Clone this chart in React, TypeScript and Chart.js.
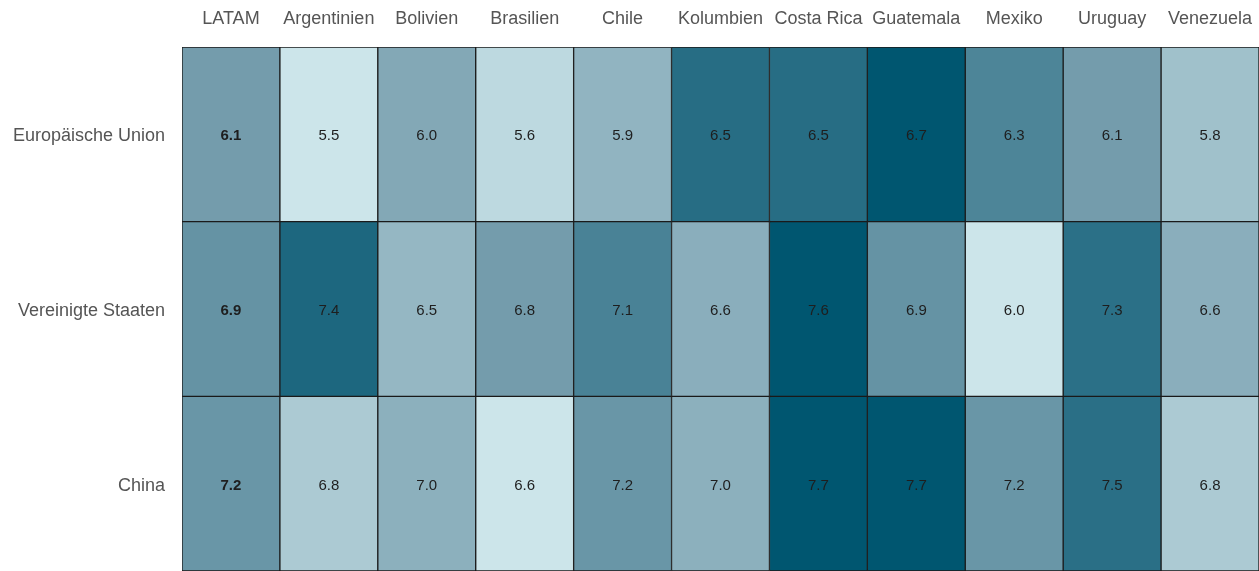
import React, { useEffect, useRef } from "react";
import { Chart, registerables } from "chart.js";

Chart.register(...registerables);

const countries = ["LATAM", "Argentinien", "Bolivien", "Brasilien", "Chile", "Kolumbien", "Costa Rica", "Guatemala", "Mexiko", "Uruguay", "Venezuela"];
const partners = ["Europäische Union", "Vereinigte Staaten", "China"];
const euValues = [6.1, 5.5, 6.0, 5.6, 5.9, 6.5, 6.5, 6.7, 6.3, 6.1, 5.8];
const usValues = [6.9, 7.4, 6.5, 6.8, 7.1, 6.6, 7.6, 6.9, 6.0, 7.3, 6.6];
const chinaValues = [7.2, 6.8, 7.0, 6.6, 7.2, 7.0, 7.7, 7.7, 7.2, 7.5, 6.8];
const rowValues = [euValues, usValues, chinaValues];

const LIGHT = [204, 229, 234];
const MID = [116, 156, 172];
const DARK = [0, 86, 112];

function mix(a: number[], b: number[], t: number) {
  return a.map((x, i) => Math.round(x + (b[i] - x) * t));
}

function colorFor(v: number, row: number[]) {
  const mn = Math.min(...row);
  const mx = Math.max(...row);
  const t = mx === mn ? 0 : (v - mn) / (mx - mn);
  const c = t < 0.5 ? mix(LIGHT, MID, t * 2) : mix(MID, DARK, (t - 0.5) * 2);
  return `rgb(${c[0]},${c[1]},${c[2]})`;
}

const FONT = "'Liberation Sans', Arial, sans-serif";

const labelPlugin = {
  id: "cellLabels",
  afterDatasetsDraw(chart: any) {
    const ctx = chart.ctx;
    ctx.save();
    ctx.textAlign = "center";
    ctx.textBaseline = "middle";
    chart.data.datasets.forEach((ds: any, di: number) => {
      const meta = chart.getDatasetMeta(di);
      meta.data.forEach((el: any, i: number) => {
        const c = el.getCenterPoint();
        const v = rowValues[di][i];
        ctx.font = `${i === 0 ? "bold " : ""}15px ${FONT}`;
        ctx.fillStyle = "#1e1e1e";
        ctx.fillText(v.toFixed(1), c.x, c.y + 2);
      });
    });
    ctx.restore();
  },
};

export default function App() {
  const ref = useRef<HTMLCanvasElement | null>(null);
  useEffect(() => {
    document.body.style.margin = "0";
    const datasets = rowValues.map((row, r) => ({
      label: partners[r],
      data: row.map((v, i) => ({ x: countries[i], y: [r, r + 1] })),
      backgroundColor: row.map((v) => colorFor(v, row)),
      borderColor: "#1a1a1a",
      borderWidth: 1,
      borderSkipped: false,
      barPercentage: 1,
      categoryPercentage: 1,
      grouped: false,
    }));
    const chart = new Chart(ref.current as HTMLCanvasElement, {
      type: "bar",
      data: { labels: countries, datasets: datasets as any },
      options: {
        animation: false,
        responsive: false,
        layout: { padding: 0 },
        plugins: { legend: { display: false }, tooltip: { enabled: false } },
        scales: {
          x: {
            position: "top",
            grid: { display: false, drawTicks: false },
            border: { display: false },
            ticks: { padding: 17, color: "#555", font: { family: FONT, size: 18 }, maxRotation: 0, autoSkip: false },
            afterFit: (s: any) => {
              s.height = 47;
              s.paddingLeft = 0;
              s.paddingRight = 0;
              s.paddingTop = 0;
              s.paddingBottom = 0;
            },
          },
          y: {
            type: "linear",
            min: 0,
            max: 3,
            reverse: true,
            grid: { display: false, drawTicks: false },
            border: { display: false },
            afterBuildTicks: (s: any) => { s.ticks = [0.5, 1.5, 2.5].map((v) => ({ value: v })); },
            ticks: {
              padding: 17,
              labelOffset: 2,
              color: "#555",
              font: { family: FONT, size: 18 },
              callback: (v: any) => partners[Math.floor(Number(v))],
            },
            afterFit: (s: any) => {
              s.width = 182;
              s.paddingLeft = 0;
              s.paddingRight = 0;
              s.paddingTop = 0;
              s.paddingBottom = 0;
            },
          },
        },
      } as any,
      plugins: [labelPlugin],
    });
    return () => chart.destroy();
  }, []);
  return (
    <div style={{ width: 1259, height: 571, overflow: "hidden" }}>
      <canvas ref={ref} width={1259} height={571} />
    </div>
  );
}
